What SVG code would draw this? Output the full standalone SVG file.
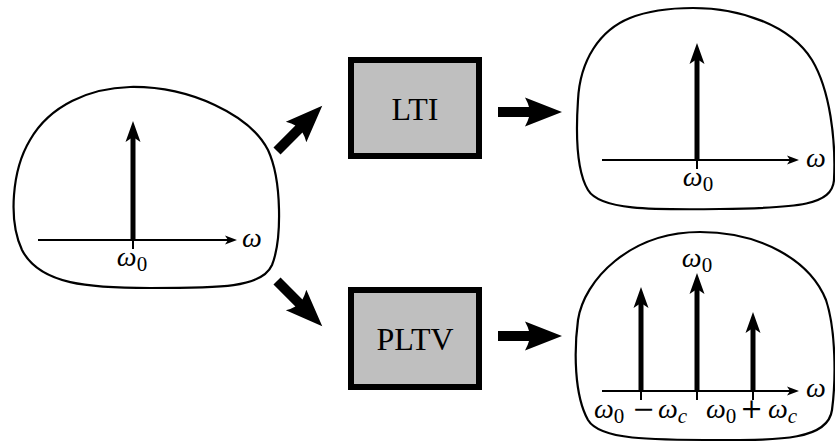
<svg xmlns="http://www.w3.org/2000/svg" width="835" height="448" viewBox="0 0 835 448">
<style>
.blob{fill:none;stroke:#000;stroke-width:2.2}
.axis{fill:none;stroke:#000;stroke-width:2;marker-end:url(#ah)}
.spike{fill:none;stroke:#000;stroke-width:5;marker-end:url(#sh)}
.tick{stroke:#000;stroke-width:2}
.box{fill:#bfbfbf;stroke:#000;stroke-width:6}
.bt{font-family:"Liberation Serif",serif;font-size:32px;text-anchor:middle}
.m{font-family:"Liberation Serif",serif;font-style:italic;font-size:28px}
.s{font-style:normal;font-size:21px}
.sc{font-size:21px}
.op{font-family:"DejaVu Serif",serif;font-style:normal;font-size:27px;text-anchor:middle}
.big{fill:#000}
</style>
<defs>
<marker id="ah" markerUnits="userSpaceOnUse" markerWidth="14" markerHeight="10" viewBox="0 -5 14 10" refX="3" refY="0" orient="auto">
<path d="M0,-4.5 L12,0 L0,4.5 L3,0 Z" fill="#000"/>
</marker>
<marker id="sh" markerUnits="userSpaceOnUse" markerWidth="24" markerHeight="18" viewBox="0 -9 24 18" refX="5" refY="0" orient="auto">
<path d="M0,-7.5 L21,0 L0,7.5 L5,0 Z" fill="#000"/>
</marker>
<path id="thick" d="M0,-5 L31,-5 Q30,-9 27,-14.5 L64,0 L27,14.5 Q30,9 31,5 L0,5 Z"/>
</defs>

<g id="input">
<path class="blob" d="M130,87 C190,86 250,115 268,150 C282,180 282,240 272,265 C262,288 220,288 150,288 C90,288 40,285 22,250 C8,220 12,170 30,140 C50,105 90,88 130,87 Z"/>
<line class="axis" x1="38" y1="240" x2="228" y2="240"/>
<line class="spike" x1="133" y1="240" x2="133" y2="137"/>
<line class="tick" x1="133" y1="240" x2="133" y2="249"/>
<text class="m" x="132" y="266" text-anchor="middle">ω<tspan class="s" dy="5">0</tspan></text>
<text class="m" x="242" y="247">ω</text>
</g>

<g id="lti">
<rect class="box" x="351" y="60" width="128" height="96"/>
<text class="bt" x="415" y="120">LTI</text>
</g>

<g id="pltv">
<rect class="box" x="351" y="290" width="128" height="97"/>
<text class="bt" x="415" y="350">PLTV</text>
</g>

<g id="lti-out">
<path class="blob" d="M693,8 C740,8 790,25 812,60 C830,90 836,140 834,180 C832,205 800,208 720,209 C650,210 600,210 588,190 C576,170 576,130 578,100 C580,60 600,30 630,18 C650,10 670,8 693,8 Z"/>
<line class="axis" x1="602" y1="160" x2="790" y2="160"/>
<line class="spike" x1="697" y1="160" x2="697" y2="59"/>
<line class="tick" x1="697" y1="160" x2="697" y2="169"/>
<text class="m" x="698" y="186" text-anchor="middle">ω<tspan class="s" dy="5">0</tspan></text>
<text class="m" x="806" y="167">ω</text>
</g>

<g id="pltv-out">
<path class="blob" d="M700,232 C760,232 810,260 826,300 C836,330 836,380 832,410 C828,440 780,440 720,440 C650,440 600,440 588,420 C574,395 574,350 578,320 C584,280 630,232 700,232 Z"/>
<line class="axis" x1="602" y1="391" x2="790" y2="391"/>
<line class="spike" x1="641" y1="391" x2="641" y2="303"/>
<line class="spike" x1="697" y1="391" x2="697" y2="289"/>
<line class="spike" x1="753" y1="391" x2="753" y2="328"/>
<line class="tick" x1="641" y1="391" x2="641" y2="400"/>
<line class="tick" x1="697" y1="391" x2="697" y2="400"/>
<line class="tick" x1="753" y1="391" x2="753" y2="400"/>
<text class="m" x="697" y="267" text-anchor="middle">ω<tspan class="s" dy="5">0</tspan></text>
<text class="m" x="806" y="397">ω</text>
<text class="m" x="594" y="418">ω<tspan class="s" dy="5">0</tspan></text>
<text class="op" x="643.5" y="418">−</text>
<text class="m" x="658" y="418">ω<tspan class="sc" dy="5">c</tspan></text>
<text class="m" x="706" y="418">ω<tspan class="s" dy="5">0</tspan></text>
<text class="op" x="751.5" y="418">+</text>
<text class="m" x="768" y="418">ω<tspan class="sc" dy="5">c</tspan></text>
</g>

<g id="connectors">
<use href="#thick" class="big" transform="translate(277,151) rotate(-45)"/>
<use href="#thick" class="big" transform="translate(277,281) rotate(45)"/>
<use href="#thick" class="big" transform="translate(498,112)"/>
<use href="#thick" class="big" transform="translate(498,336)"/>
</g>
</svg>
